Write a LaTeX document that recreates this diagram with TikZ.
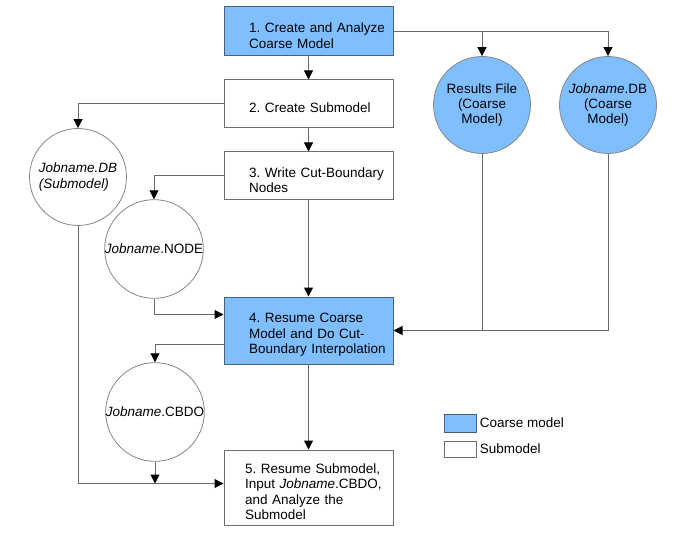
\documentclass[tikz,border=0pt]{standalone}
\usepackage{fontspec}
\setmainfont{Liberation Sans}
\usepackage{tikz}
\usetikzlibrary{arrows.meta,calc}

\definecolor{coarse}{RGB}{128,191,255}
\definecolor{coarseedge}{RGB}{75,95,120}
\definecolor{boxedge}{RGB}{110,110,110}
\definecolor{circedge}{RGB}{135,135,135}
\definecolor{linecol}{RGB}{105,105,105}

\begin{document}
\frenchspacing
\begin{tikzpicture}[x=1pt,y=-1pt,
    every node/.style={font=\fontsize{13.5}{15.3}\selectfont},
    stepbox/.style={draw=boxedge, line width=1pt, minimum width=169, inner xsep=0pt,
        text width=169pt, align=left,
        execute at begin node={\leftskip=25pt\rule{0pt}{18pt}}},
    coarsebox/.style={stepbox, fill=coarse, draw=coarseedge},
    file/.style={circle, draw=circedge, line width=0.8pt, minimum size=97, inner sep=0pt, align=center},
    link/.style={draw=linecol, line width=1pt},
    feed/.style={link, -{Triangle[width=9pt,length=9pt,color=black]}}]

    % Page
    \fill[white] (0,0) rectangle (676,534);
    \useasboundingbox (0,0) rectangle (676,534);

    % Steps
    \node[coarsebox, minimum height=49] (b1) at (308.5,31.5) {1. Create and Analyze\\Coarse Model};
    \node[stepbox, minimum height=48] (b2) at (308.5,104) {2. Create Submodel};
    \node[stepbox, minimum height=48] (b3) at (308.5,176) {3. Write Cut-Boundary\\Nodes};
    \node[coarsebox, minimum height=67] (b4) at (308.5,330.5) {4. Resume Coarse\\Model and Do Cut-\\Boundary Interpolation};
    \node[stepbox, minimum height=75, execute at begin node={\leftskip=21pt\rule{0pt}{18pt}}] (b5) at (308.5,487.5)
        {5. Resume Submodel,\\Input \textit{Jobname}.CBDO,\\and Analyze the\\Submodel};

    % Files
    \node[file, fill=coarse] (res) at (482,105) {Results File\\(Coarse\\Model)};
    \node[file, fill=coarse] (dbc) at (608,105) {\textit{Jobname}.DB\\(Coarse\\Model)};
    \node[file, align=left] (dbs) at (78,177) {\textit{Jobname.DB}\\\textit{(Submodel)}};
    \node[file] (nodef) at (154,249) {\textit{Jobname}.NODE};
    \node[file] (cbdo) at (155,412) {\textit{Jobname}.CBDO};

    % Flow
    \draw[feed] (b1.south) -- (b2.north);
    \draw[feed] (b1.east) -| (dbc.north);
    \draw[feed] (b1.east -| res.north) -- (res.north);
    \draw[feed] (b2.west) -| (dbs.north);
    \draw[feed] (b2.south) -- (b3.north);
    \draw[feed] (b3.west) -| (nodef.north);
    \draw[feed] (b3.south) -- (b4.north);

    \coordinate (b4in) at ($(b4.north west)+(0,18)$);
    \coordinate (b4out) at ($(b4.north west)+(0,48)$);
    \coordinate (b5in) at ($(b5.north west)+(0,34)$);

    \draw[feed] (nodef.south) |- (b4in);
    \draw[link] (dbc.south) |- (b4.east);
    \draw[feed] (res.south) |- (b4.east);
    \draw[feed] (b4out) -| (cbdo.north);
    \draw[feed] (b4.south) -- (b5.north);
    \draw[feed] (dbs.south) |- (b5in);
    \draw[feed] (cbdo.south) -- (cbdo.south |- b5in);

    % Legend
    \node[draw=coarseedge, fill=coarse, line width=0.8pt, minimum width=32, minimum height=18, inner sep=0pt] (keycoarse) at (460,423) {};
    \node[anchor=west] (keycoarsetext) at (keycoarse.east) {Coarse model};
    \node[draw=boxedge, line width=0.8pt, minimum width=32, minimum height=16, inner sep=0pt] (keysub) at (460,449) {};
    \node[anchor=west] (keysubtext) at (keysub.east) {Submodel};
\end{tikzpicture}
\end{document}
